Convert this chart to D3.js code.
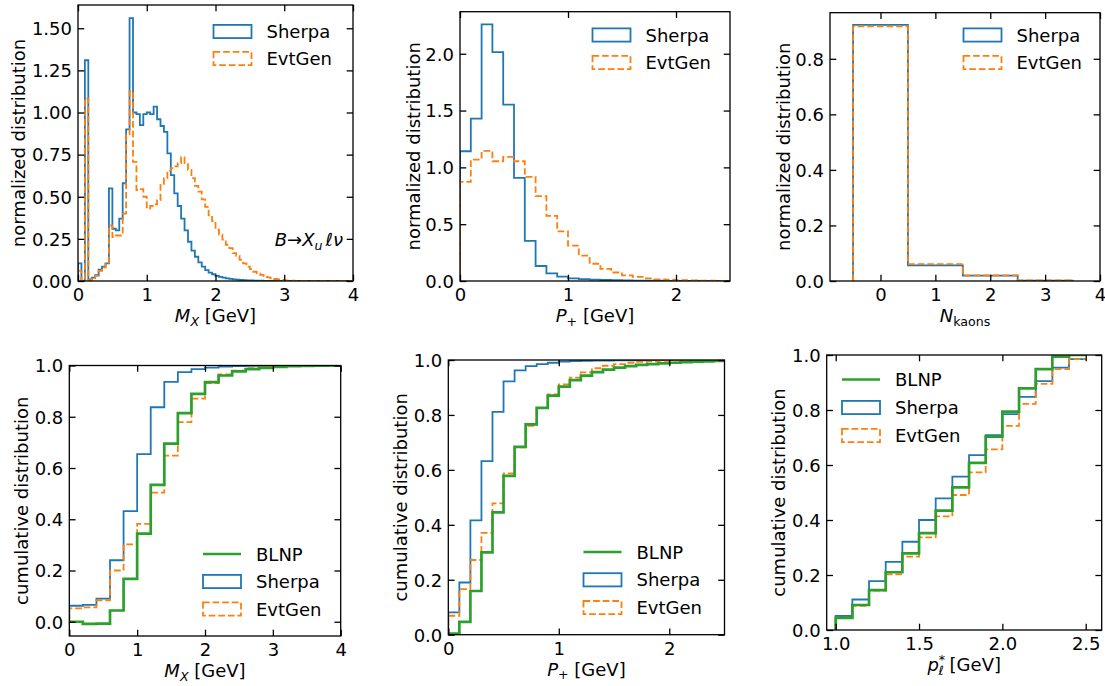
<!DOCTYPE html>
<html><head><meta charset="utf-8">
<script src="https://cdn.jsdelivr.net/npm/d3@7"></script>
<style>
body{margin:0;background:#fff}
svg{display:block}
text{font-family:"DejaVu Sans",sans-serif;fill:#000}
</style>
</head><body>
<svg id="c" width="1105" height="686"></svg>
<script>
// ---------------- DATA ----------------
// Panel 1: M_X normalized distribution, bins of 0.05 GeV from 0 to 4
const mxBinStart = 0, mxBinWidth = 0.05;
const mxSherpa = [0.105,0,1.31,0.01,0.02,0.035,0.068,0.085,0.105,0.55,
  0.31,0.30,0.37,0.58,0.90,1.56,1.00,0.99,0.925,0.99,
  1.00,0.99,1.035,0.96,0.92,0.885,0.757,0.628,0.52,0.445,
  0.37,0.30,0.233,0.18,0.144,0.11,0.085,0.065,0.05,0.04,
  0.03,0.025,0.02,0.016,0.013,0.01,0.008,0.006,0.005,0.004,
  0.003,0.0025,0.002,0.0015,0.001,0.001,0.001,0.0008,0.0006,0.0005,
  0.0004,0.0003,0.0002,0.0002,0.0001,0.0001,0,0,0,0,
  0,0,0,0,0,0,0,0,0,0];
const mxEvtGen = [0.06,0,1.083,0.005,0.015,0.03,0.06,0.08,0.10,0.33,
  0.26,0.27,0.27,0.40,0.87,1.126,0.707,0.54,0.545,0.50,
  0.43,0.445,0.455,0.48,0.57,0.61,0.655,0.67,0.68,0.70,
  0.735,0.70,0.66,0.61,0.565,0.53,0.485,0.44,0.39,0.355,
  0.305,0.275,0.245,0.215,0.195,0.165,0.15,0.125,0.105,0.085,
  0.07,0.055,0.045,0.036,0.03,0.022,0.016,0.012,0.009,0.006,
  0.004,0.003,0.002,0.001,0.0005,0,0,0,0,0,
  0,0,0,0,0,0,0,0,0,0];
// Panel 2: P+ normalized distribution, bins of 0.1 GeV from 0 to 2.5
const pBinStart = 0, pBinWidth = 0.1;
const pSherpa = [1.142,1.429,2.258,2.015,1.552,0.908,0.354,0.132,0.067,0.038,
  0.023,0.016,0.012,0.009,0.007,0.005,0.004,0.003,0.002,0.0015,
  0.001,0.001,0.0005,0.0005,0.0003];
const pEvtGen = [0.873,1.069,1.145,1.054,1.092,1.054,0.917,0.747,0.574,0.437,
  0.311,0.223,0.152,0.107,0.075,0.05,0.036,0.023,0.015,0.011,
  0.007,0.005,0.003,0.002,0.001];
// Panel 3: number of kaons
const kCategories = [0,1,2,3];
const kSherpa = [0.9225,0.056,0.019,0.0015];
const kEvtGen = [0.9165,0.061,0.0205,0.002];
// Panel 4: cumulative M_X, bins of 0.2 GeV from 0 to 4
const cmxBinStart = 0, cmxBinWidth = 0.2;
const cmxBLNP = [0.0,-0.008,-0.007,0.044,0.167,0.344,0.534,0.695,0.814,0.889,
  0.935,0.961,0.977,0.986,0.991,0.995,0.997,0.998,0.999,1.0];
const cmxSherpa = [0.0625,0.066,0.09,0.24,0.432,0.654,0.837,0.936,0.974,0.986,
  0.992,0.996,0.998,0.999,0.999,1,1,1,1,1];
const cmxEvtGen = [0.052,0.056,0.084,0.20,0.302,0.382,0.504,0.648,0.779,0.871,
  0.931,0.965,0.98,0.99,0.995,0.998,0.999,1,1,1];
// Panel 5: cumulative P+, bins of 0.1 GeV from 0 to 2.5
const cpBinStart = 0, cpBinWidth = 0.1;
const cpBLNP = [0.004,0.047,0.159,0.30,0.445,0.578,0.684,0.766,0.826,0.87,
  0.903,0.927,0.943,0.956,0.965,0.972,0.978,0.982,0.985,0.988,
  0.99,0.992,0.994,0.995,0.997];
const cpSherpa = [0.081,0.19,0.416,0.632,0.811,0.922,0.962,0.978,0.985,0.99,
  0.994,0.996,0.997,0.998,0.998,0.999,0.999,0.999,1,1,1,1,1,1,1];
const cpEvtGen = [0.069,0.166,0.272,0.371,0.478,0.587,0.682,0.76,0.826,0.875,
  0.911,0.936,0.955,0.97,0.979,0.985,0.99,0.993,0.995,0.997,
  0.998,0.999,0.999,1,1];
// Panel 6: cumulative p_l*, bins of 0.1 GeV from 1.0 to 2.5
const clBinStart = 1.0, clBinWidth = 0.1;
const clBLNP = [0.044,0.091,0.145,0.21,0.279,0.352,0.434,0.519,0.608,0.703,0.794,0.879,0.949,0.994,1.0];
const clSherpa = [0.051,0.111,0.178,0.248,0.321,0.40,0.479,0.558,0.636,0.709,0.785,0.848,0.905,0.954,0.985];
const clEvtGen = [0.045,0.088,0.143,0.202,0.267,0.337,0.413,0.491,0.573,0.657,0.742,0.822,0.895,0.949,0.985];

// tick labels
const ticksMX = [0,1,2,3,4];
const ticksP = [0,1,2];
const ticksL = [1.0,1.5,2.0,2.5];
const ticksY1 = [0,0.25,0.5,0.75,1.0,1.25,1.5];
const ticksY2 = [0,0.5,1.0,1.5,2.0];
const ticksY3 = [0,0.2,0.4,0.6,0.8];
const ticksYc = [0,0.2,0.4,0.6,0.8,1.0];

// ---------------- STYLE ----------------
const C = {blue:"#1f77b4", orange:"#ff7f0e", green:"#2ca02c"};
const DASH = "6.7,2.9";
const svg = d3.select("#c");

function edgesFrom(start, width, n){ const e=[]; for(let i=0;i<=n;i++) e.push(+(start+i*width).toFixed(6)); return e; }
function stepPts(edges, vals, closeEnd){
  const pts=[[edges[0],0]];
  vals.forEach((v,i)=>{pts.push([edges[i],v]);pts.push([edges[i+1],v]);});
  if(closeEnd) pts.push([edges[edges.length-1],0]);
  return pts;
}
function addText(g,x,y,parts,anchor,extra){
  const t=g.append("text").attr("x",x).attr("y",y).attr("text-anchor",anchor||"start").attr("font-size",18);
  if(extra) extra(t);
  parts.forEach(p=>{const s=t.append("tspan").text(p.t);
    if(p.i) s.attr("font-style","italic");
    if(p.s) s.attr("font-size",p.s);
    if(p.dy) s.attr("dy",p.dy);
    if(p.dx) s.attr("dx",p.dx);});
  return t;
}

let clipId=0;
function panel(cfg){
  const x=d3.scaleLinear().domain(cfg.xd).range([cfg.l,cfg.r]);
  const y=d3.scaleLinear().domain(cfg.yd).range([cfg.b,cfg.t]);
  const g=svg.append("g");
  const id="clip"+(clipId++);
  g.append("clipPath").attr("id",id).append("rect")
    .attr("x",cfg.l).attr("y",cfg.t).attr("width",cfg.r-cfg.l).attr("height",cfg.b-cfg.t);
  const dg=g.append("g").attr("clip-path","url(#"+id+")");
  const line=d3.line().x(d=>x(d[0])).y(d=>y(d[1]));
  cfg.series.forEach(s=>{
    dg.append("path").attr("d",line(stepPts(s.edges,s.vals,s.close)))
      .attr("fill","none").attr("stroke",s.color).attr("stroke-width",s.lw)
      .attr("stroke-dasharray",s.dash||null).attr("stroke-linejoin","miter");
  });
  // axes
  const TL=6.3;
  const ax=[
    d3.axisBottom(y===null?x:x).tickValues(cfg.xt).tickFormat(cfg.xf).tickSizeInner(-TL).tickSizeOuter(0).tickPadding(7),
  ];
  const gb=g.append("g").attr("transform",`translate(0,${cfg.b})`).call(ax[0]);
  const gt=g.append("g").attr("transform",`translate(0,${cfg.t})`).call(d3.axisTop(x).tickValues(cfg.xt).tickFormat("").tickSizeInner(-TL).tickSizeOuter(0));
  const gl=g.append("g").attr("transform",`translate(${cfg.l},0)`).call(d3.axisLeft(y).tickValues(cfg.yt).tickFormat(cfg.yf).tickSizeInner(-TL).tickSizeOuter(0).tickPadding(6));
  const gr=g.append("g").attr("transform",`translate(${cfg.r},0)`).call(d3.axisRight(y).tickValues(cfg.yt).tickFormat("").tickSizeInner(-TL).tickSizeOuter(0));
  [gb,gt,gl,gr].forEach(a=>{
    a.select(".domain").remove();
    a.attr("font-size",null).attr("font-family",null);
    a.selectAll("line").attr("stroke","#000").attr("stroke-width",1.3);
    a.selectAll("text").attr("font-size",18).attr("fill","#000");
  });
  gl.selectAll("text").attr("dy","0.35em");
  gb.selectAll("text").attr("dy","0.73em");
  // frame
  g.append("rect").attr("x",cfg.l).attr("y",cfg.t).attr("width",cfg.r-cfg.l).attr("height",cfg.b-cfg.t)
    .attr("fill","none").attr("stroke","#000").attr("stroke-width",1.3);
  // y label
  addText(g,0,0,[{t:cfg.ylabel}],"middle",t=>t.attr("transform",`translate(${cfg.ylx},${(cfg.t+cfg.b)/2}) rotate(-90)`).attr("x",null).attr("y",null));
  // x label
  addText(g,(cfg.l+cfg.r)/2,cfg.xly,cfg.xlabel,"middle");
  // legend
  cfg.legend.items.forEach((it,i)=>{
    const cy=cfg.legend.y0+i*cfg.legend.dy;
    const hx=cfg.legend.x, hw=38, hh=13.2;
    if(it.kind==="line"){
      g.append("line").attr("x1",hx).attr("x2",hx+hw).attr("y1",cy).attr("y2",cy)
        .attr("stroke",it.color).attr("stroke-width",2.7);
    } else {
      g.append("rect").attr("x",hx).attr("y",cy-hh/2).attr("width",hw).attr("height",hh)
        .attr("fill","none").attr("stroke",it.color).attr("stroke-width",1.8).attr("stroke-dasharray",it.dash||null);
    }
    addText(g,hx+hw+15,cy+6.5,[{t:it.label}],"start");
  });
  return {g,x,y};
}

const mxEdges=edgesFrom(mxBinStart,mxBinWidth,mxSherpa.length);
const pEdges=edgesFrom(pBinStart,pBinWidth,pSherpa.length);
const kEdges=kCategories.map(c=>c-0.5).concat([kCategories[kCategories.length-1]+0.5]);
const cmxEdges=edgesFrom(cmxBinStart,cmxBinWidth,cmxSherpa.length);
const cpEdges=edgesFrom(cpBinStart,cpBinWidth,cpSherpa.length);
const clEdges=edgesFrom(clBinStart,clBinWidth,clSherpa.length);

const GEV={t:" [GeV]",dy:-3.5};
const legTop=[{kind:"patch",color:C.blue,label:"Sherpa"},{kind:"patch",color:C.orange,dash:DASH,label:"EvtGen"}];
const legBot=[{kind:"line",color:C.green,label:"BLNP"},{kind:"patch",color:C.blue,label:"Sherpa"},{kind:"patch",color:C.orange,dash:DASH,label:"EvtGen"}];

const p1=panel({l:78,r:353,t:5,b:281,xd:[0,4],yd:[0,1.638],xt:ticksMX,xf:d3.format("d"),yt:ticksY1,yf:d3.format(".2f"),
  series:[{edges:mxEdges,vals:mxSherpa,color:C.blue,lw:1.8,close:true},{edges:mxEdges,vals:mxEvtGen,color:C.orange,lw:1.8,dash:DASH,close:true}],
  ylabel:"normalized distribution",ylx:24.5,xly:322,
  xlabel:[{t:"M",i:1},{t:"X",i:1,s:12.6,dy:3.5},GEV],
  legend:{x:213.5,y0:31.5,dy:27,items:legTop}});
addText(p1.g,343,246,[{t:"B",i:1},{t:"→"},{t:"X",i:1},{t:"u",i:1,s:12.6,dy:3.5},{t:"ℓ",dy:-3.5,dx:3},{t:"ν",i:1}],"end");

panel({l:460,r:730,t:11.7,b:281,xd:[0,2.5],yd:[0,2.37],xt:ticksP,xf:d3.format("d"),yt:ticksY2,yf:d3.format(".1f"),
  series:[{edges:pEdges,vals:pSherpa,color:C.blue,lw:1.8,close:true},{edges:pEdges,vals:pEvtGen,color:C.orange,lw:1.8,dash:DASH,close:true}],
  ylabel:"normalized distribution",ylx:420,xly:322,
  xlabel:[{t:"P",i:1},{t:"+",s:12.6,dy:3.5},GEV],
  legend:{x:592.5,y0:35,dy:27.5,items:legTop}});

panel({l:830,r:1100,t:12.7,b:281,xd:[-0.92,4],yd:[0,0.966],xt:ticksMX,xf:d3.format("d"),yt:ticksY3,yf:d3.format(".1f"),
  series:[{edges:kEdges,vals:kSherpa,color:C.blue,lw:1.8,close:true},{edges:kEdges,vals:kEvtGen,color:C.orange,lw:1.8,dash:DASH,close:true}],
  ylabel:"normalized distribution",ylx:790,xly:322,
  xlabel:[{t:"N",i:1},{t:"kaons",s:12.6,dy:3.5}],
  legend:{x:963.5,y0:35,dy:27.5,items:legTop}});

panel({l:69.3,r:340.7,t:365.5,b:636,xd:[0,4],yd:[-0.0556,1.0],xt:ticksMX,xf:d3.format("d"),yt:ticksYc,yf:d3.format(".1f"),
  series:[{edges:cmxEdges,vals:cmxSherpa,color:C.blue,lw:1.8},{edges:cmxEdges,vals:cmxEvtGen,color:C.orange,lw:1.8,dash:DASH},{edges:cmxEdges,vals:cmxBLNP,color:C.green,lw:2.7}],
  ylabel:"cumulative distribution",ylx:28,xly:677,
  xlabel:[{t:"M",i:1},{t:"X",i:1,s:12.6,dy:3.5},GEV],
  legend:{x:203,y0:554,dy:27.5,items:legBot}});

panel({l:448.3,r:724.5,t:360,b:634.7,xd:[0,2.5],yd:[0,1],xt:ticksP,xf:d3.format("d"),yt:ticksYc,yf:d3.format(".1f"),
  series:[{edges:cpEdges,vals:cpSherpa,color:C.blue,lw:1.8},{edges:cpEdges,vals:cpEvtGen,color:C.orange,lw:1.8,dash:DASH},{edges:cpEdges,vals:cpBLNP,color:C.green,lw:2.7}],
  ylabel:"cumulative distribution",ylx:406.5,xly:675.5,
  xlabel:[{t:"P",i:1},{t:"+",s:12.6,dy:3.5},GEV],
  legend:{x:583.5,y0:552,dy:27.8,items:legBot}});

panel({l:826.7,r:1101.7,t:355,b:630,xd:[0.946,2.596],yd:[0,1],xt:ticksL,xf:d3.format(".1f"),yt:ticksYc,yf:d3.format(".1f"),
  series:[{edges:clEdges,vals:clSherpa,color:C.blue,lw:1.8},{edges:clEdges,vals:clEvtGen,color:C.orange,lw:1.8,dash:DASH},{edges:clEdges,vals:clBLNP,color:C.green,lw:2.7}],
  ylabel:"cumulative distribution",ylx:785,xly:671,
  xlabel:[{t:"p",i:1},{t:"*",s:12.6,dy:-7},{t:"ℓ",i:1,s:12.6,dx:-6.5,dy:11},{t:" [GeV]",dy:-4}],
  legend:{x:842,y0:379.5,dy:28,items:legBot}});
</script>
</body></html>
